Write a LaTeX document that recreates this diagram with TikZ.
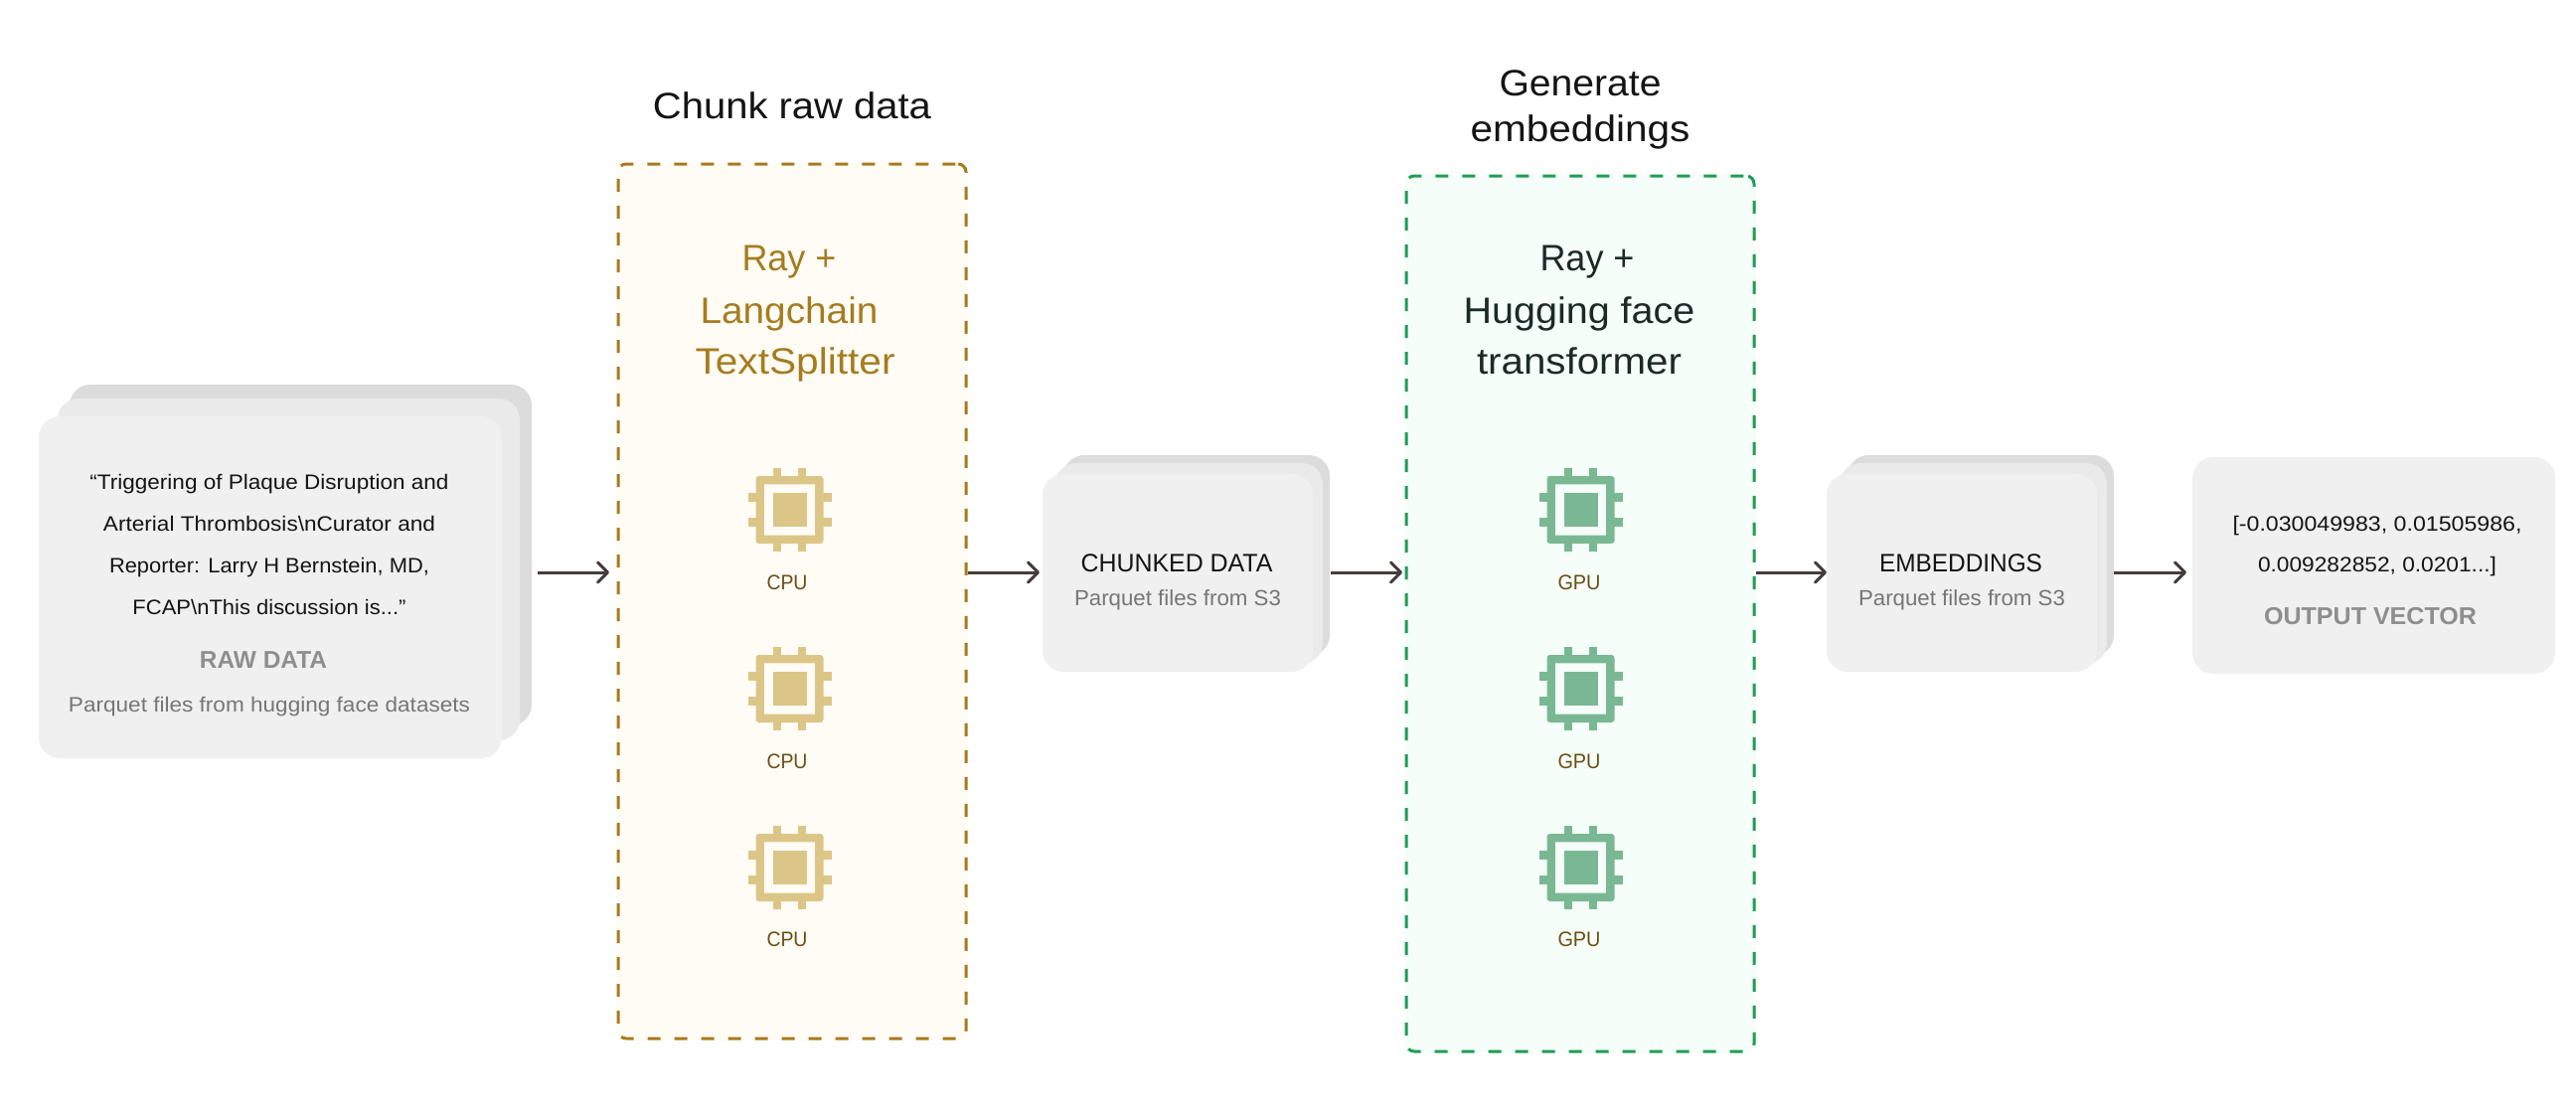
\documentclass[tikz,border=0pt]{standalone}
\usepackage{fontspec}
\setmainfont{Liberation Sans}
\usetikzlibrary{arrows.meta}
\definecolor{ink}{HTML}{141414}
\definecolor{greytxt}{HTML}{767676}
\definecolor{greyhead}{HTML}{8E8E8E}
\definecolor{frontc}{HTML}{F0F0F0}
\definecolor{midc}{HTML}{EAEAEA}
\definecolor{backc}{HTML}{DCDCDC}
\definecolor{ambertxt}{HTML}{A67C1E}
\definecolor{amberline}{HTML}{A87A1C}
\definecolor{amberfill}{HTML}{FFFCF6}
\definecolor{amberchip}{HTML}{DCC687}
\definecolor{greenline}{HTML}{1F9D55}
\definecolor{greenfill}{HTML}{F5FEF9}
\definecolor{greenchip}{HTML}{7AB893}
\definecolor{browntxt}{HTML}{6B4E12}
\definecolor{arrowc}{HTML}{453C3C}
\definecolor{darktxt}{HTML}{1C2A26}
\tikzset{
  card/.style={rounded corners=21pt,inner sep=0pt,outer sep=0pt,draw=none},
  frontcard/.style={card,fill=frontc},
  midcard/.style={card,fill=midc},
  backcard/.style={card,fill=backc},
  zone/.style={rounded corners=8pt,inner sep=0pt,outer sep=0pt,line width=3pt,dash pattern=on 13pt off 14pt,dash phase=24.3pt},
  amberzone/.style={zone,draw=amberline,fill=amberfill,preaction={draw=amberfill,solid}},
  greenzone/.style={zone,draw=greenline,fill=greenfill,preaction={draw=greenfill,solid}},
  flow/.style={draw=arrowc,line width=3pt,-{Straight Barb[length=10pt,width=20pt,line width=3pt,round]}},
  lbl/.style={anchor=base,inner sep=0pt,outer sep=0pt},
}
% name, x, baseline y, size, width, colour, text
\newcommand\txt[7]{\node[lbl,text=#6] (#1) at (#2,#3) {\fontsize{#4}{#4}\selectfont\resizebox{#5pt}{\height}{#7}};}
\newcommand\cardbox[6]{\node[#6,minimum width=#4pt-#2pt,minimum height=#5pt-#3pt] (#1) at ({(#2+#4)/2},{(#3+#5)/2}) {};}
\newcommand\chipicon[3]{%
  \begin{scope}[shift={(#1,#2)}]
    \fill[#3,even odd rule,rounded corners=3pt] (-34,-34) rectangle (34,34)
       [sharp corners] (-25.6,-25.6) rectangle (25.6,25.6);
    \fill[#3] (-17,-17) rectangle (17,17);
    \foreach \p in {-12.5,12.5}{
      \fill[#3] (-42,\p-4.2) rectangle (-33,\p+4.2);
      \fill[#3] (33,\p-4.2) rectangle (42,\p+4.2);
      \fill[#3] (\p-4.2,-42) rectangle (\p+4.2,-33);
      \fill[#3] (\p-4.2,33) rectangle (\p+4.2,42);
    }
  \end{scope}}
\begin{document}
\begin{tikzpicture}[x=1pt,y=-1pt]
\useasboundingbox (0,0) rectangle (2592,1119);
\fill[white] (0,0) rectangle (2592,1119);

% raw data stack
\cardbox{rawback}{70}{387}{535}{730}{backcard}
\cardbox{rawmid}{58}{401}{523}{745}{midcard}
\cardbox{rawfront}{39}{419}{505}{763}{frontcard}
\txt{q1}{271}{492}{21}{361}{ink}{“Triggering of Plaque Disruption and}
\txt{q2}{271}{534}{21}{334}{ink}{Arterial Thrombosis\textbackslash nCurator and}
\txt{q3}{271}{576}{21}{322}{ink}{Reporter: Larry H Bernstein, MD,}
\txt{q4}{271}{618}{21}{275}{ink}{FCAP\textbackslash nThis discussion is...”}
\txt{rawhead}{265}{672}{24.5}{128}{greyhead}{\bfseries RAW DATA}
\txt{rawsub}{271}{716}{21}{404}{greytxt}{Parquet files from hugging face datasets}

% chunk zone
\txt{chunktitle}{797}{119}{37}{280}{ink}{Chunk raw data}
\cardbox{chunkzone}{622}{165}{972}{1045}{amberzone}
\txt{c1}{794}{272}{37}{95}{ambertxt}{Ray +}
\txt{c2}{794}{325}{37}{179}{ambertxt}{Langchain}
\txt{c3}{800}{376}{37}{201}{ambertxt}{TextSplitter}
\chipicon{794.5}{513}{amberchip}
\chipicon{794.5}{693}{amberchip}
\chipicon{794.5}{873}{amberchip}
\txt{cpu1}{792}{593}{21}{41}{browntxt}{CPU}
\txt{cpu2}{792}{773}{21}{41}{browntxt}{CPU}
\txt{cpu3}{792}{952}{21}{41}{browntxt}{CPU}

% chunked data stack
\cardbox{chunkback}{1070}{458}{1338}{660}{backcard}
\cardbox{chunkmid}{1062}{466}{1331}{668}{midcard}
\cardbox{chunkfront}{1049}{477}{1321}{676}{frontcard}
\txt{chunkhead}{1184}{575}{25.5}{193}{ink}{CHUNKED DATA}
\txt{chunksub}{1185}{609}{22}{208}{greytxt}{Parquet files from S3}

% embedding zone
\txt{emb1}{1590}{96}{37}{163}{ink}{Generate}
\txt{emb2}{1590}{142}{37}{221}{ink}{embeddings}
\cardbox{embzone}{1415}{177}{1765}{1058}{greenzone}
\txt{g1}{1597}{272}{37}{95}{darktxt}{Ray +}
\txt{g2}{1589}{325}{37}{233}{darktxt}{Hugging face}
\txt{g3}{1589}{376}{37}{206}{darktxt}{transformer}
\chipicon{1590.5}{513}{greenchip}
\chipicon{1590.5}{693}{greenchip}
\chipicon{1590.5}{873}{greenchip}
\txt{gpu1}{1589}{593}{21}{43}{browntxt}{GPU}
\txt{gpu2}{1589}{773}{21}{43}{browntxt}{GPU}
\txt{gpu3}{1589}{952}{21}{43}{browntxt}{GPU}

% embeddings stack
\cardbox{eback}{1859}{458}{2127}{660}{backcard}
\cardbox{emid}{1851}{466}{2120}{668}{midcard}
\cardbox{efront}{1838}{477}{2110}{676}{frontcard}
\txt{ehead}{1973}{575}{25.5}{164}{ink}{EMBEDDINGS}
\txt{esub}{1974}{609}{22}{208}{greytxt}{Parquet files from S3}

% output card
\cardbox{outcard}{2206}{460}{2571}{678}{frontcard}
\txt{o1}{2392}{534}{21}{291}{ink}{[-0.030049983, 0.01505986,}
\txt{o2}{2392}{575}{21}{240}{ink}{0.009282852, 0.0201...]}
\txt{ohead}{2385}{628}{24.5}{214}{greyhead}{\bfseries OUTPUT VECTOR}

% connectors
\coordinate (flowy) at (0,576);
\draw[flow,shorten <=6pt,shorten >=9pt] (rawback.east |- flowy) -- (chunkzone.west |- flowy);
\draw[flow,shorten <=2pt,shorten >=3pt] (chunkzone.east |- flowy) -- (chunkfront.west |- flowy);
\draw[flow,shorten <=1pt,shorten >=4pt] (chunkback.east |- flowy) -- (embzone.west |- flowy);
\draw[flow,shorten <=2pt,shorten >=0pt] (embzone.east |- flowy) -- (efront.west |- flowy);
\draw[flow,shorten <=0pt,shorten >=6pt] (eback.east |- flowy) -- (outcard.west |- flowy);
\end{tikzpicture}
\end{document}
